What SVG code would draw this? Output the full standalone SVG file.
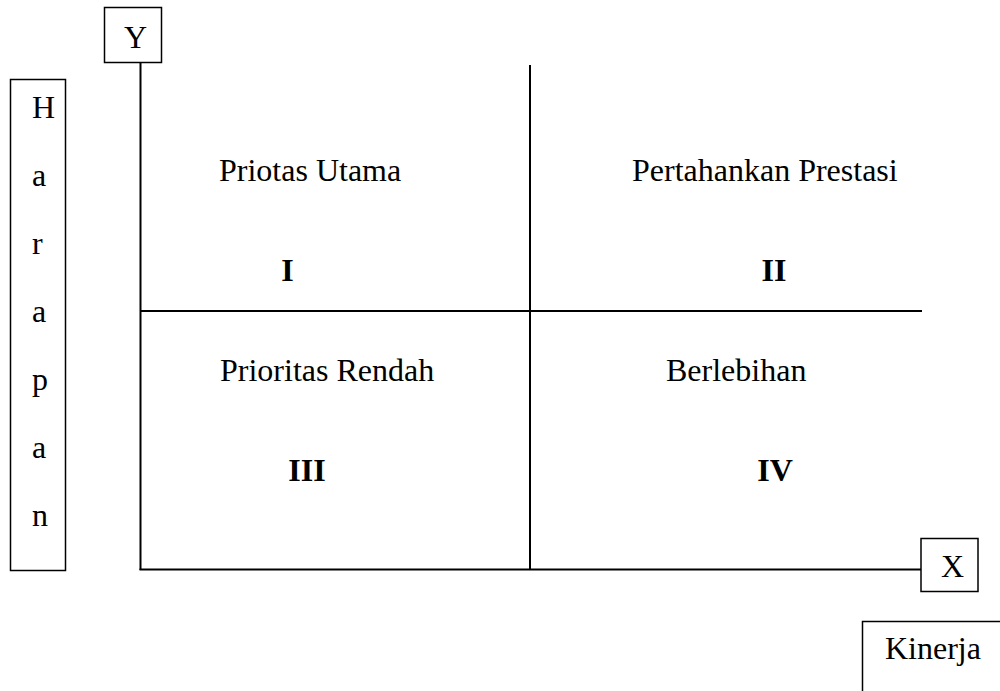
<svg xmlns="http://www.w3.org/2000/svg" width="1000" height="691" viewBox="0 0 1000 691">
<style>
.box{fill:#fff;stroke:#000;stroke-width:1.5}
.ax{stroke:#000;stroke-width:2;fill:none}
.t{font-family:"Liberation Serif","Times New Roman",serif;font-size:32px;fill:#000}
.b{font-weight:bold}
</style>
<rect width="1000" height="691" fill="#fff"/>
<g id="connectors">
<line class="ax" x1="140.5" y1="62" x2="140.5" y2="570"/>
<line class="ax" x1="139.5" y1="569.5" x2="921" y2="569.5"/>
<line class="ax" x1="530" y1="65" x2="530" y2="570"/>
<line class="ax" x1="140" y1="311" x2="922" y2="311"/>
</g>
<g id="node-y">
<rect class="box" x="104.5" y="7.5" width="57" height="55"/>
<text class="t" x="124" y="48">Y</text>
</g>
<g id="node-x">
<rect class="box" x="921" y="538.5" width="57" height="53"/>
<text class="t" x="941" y="577">X</text>
</g>
<g id="node-harapan">
<rect class="box" x="10.5" y="79.5" width="55" height="491"/>
<text class="t" x="32" y="118">H</text>
<text class="t" x="32" y="186">a</text>
<text class="t" x="32" y="254">r</text>
<text class="t" x="32" y="322">a</text>
<text class="t" x="32" y="390">p</text>
<text class="t" x="32" y="458">a</text>
<text class="t" x="32" y="526">n</text>
</g>
<g id="node-kinerja">
<rect class="box" x="862.5" y="621.5" width="160" height="100"/>
<text class="t" x="885" y="659">Kinerja</text>
</g>
<g id="q1">
<text class="t" x="219" y="181">Priotas Utama</text>
<text class="t b" x="287.5" y="281" text-anchor="middle">I</text>
</g>
<g id="q2">
<text class="t" x="632" y="181">Pertahankan Prestasi</text>
<text class="t b" x="774" y="281" text-anchor="middle">II</text>
</g>
<g id="q3">
<text class="t" x="220" y="381">Prioritas Rendah</text>
<text class="t b" x="307" y="481" text-anchor="middle">III</text>
</g>
<g id="q4">
<text class="t" x="666" y="381">Berlebihan</text>
<text class="t b" x="775" y="481" text-anchor="middle">IV</text>
</g>
</svg>
